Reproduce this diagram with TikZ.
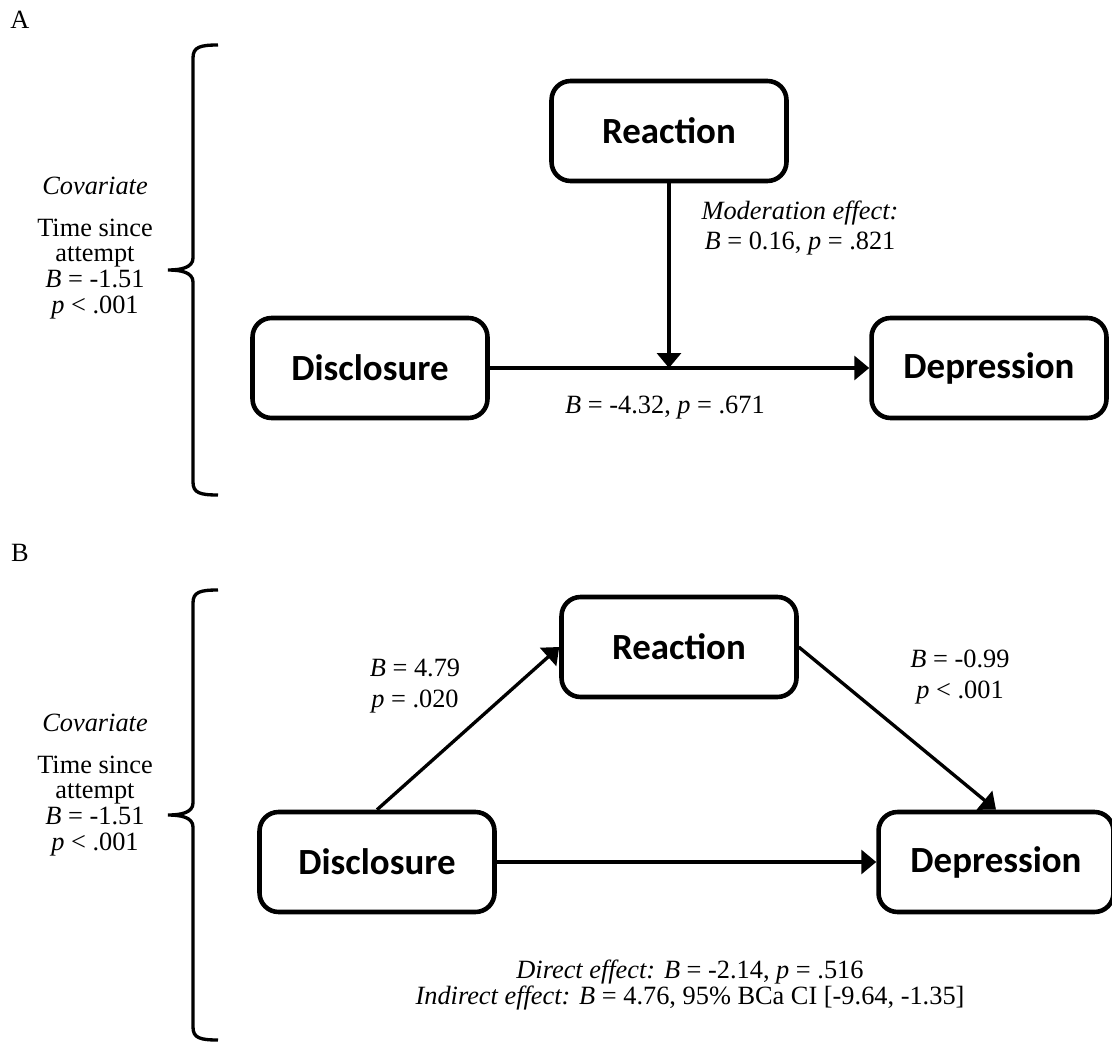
\documentclass[tikz,border=0pt]{standalone}
\usepackage{fontspec}
\setmainfont{Liberation Serif}
\newfontfamily\boxfont{Carlito}
\usetikzlibrary{positioning,arrows.meta}

\begin{document}
\begin{tikzpicture}[x=0.02cm,y=-0.02cm,
          every node/.style={font=\fontsize{15}{14.6}\selectfont},
          box/.style={draw, line width=2.6pt, rounded corners=0.38cm,
            minimum width=4.7cm, minimum height=2cm,
            font=\boxfont\bfseries\fontsize{21}{24}\selectfont},
          ar/.style={-{Triangle[length=0.3cm,width=0.48cm]},line width=1.9pt},
          brc/.style={line width=1.9pt}]
        \useasboundingbox (0,0) rectangle (1112,1044);
        % panel A: moderation
        \node (labA) at (20,20) {A};
        \node[box] (reactA) at (669,131) {Reaction};
        \node[box] (discA) at (370,368) {Disclosure};
        \node[box] (depA) at (989,368) {Depression};
        \node[align=center] (covA) at (95,248)
        {\textit{Covariate}\\[9pt]
          Time since\\ attempt\\ \textit{B} = -1.51\\ \textit{p} < .001};
        \draw[brc] (218,45) .. controls (200,45) and (193,47) .. (193,58)
          -- (193,258) .. controls (193,268) and (180,270) .. (168,270)
          .. controls (180,270) and (193,272) .. (193,282)
          -- (193,482) .. controls (193,493) and (200,495) .. (218,495);
        \draw[ar] (discA) -- (depA);
        \draw[ar] (reactA) -- (reactA.south |- discA.east);
        \node[align=center] (modA) at (800,228)
        {\textit{Moderation effect:}\\[3pt] \textit{B} = 0.16, \textit{p} = .821};
        \node (pathA) at (665,408) {\textit{B} = -4.32, \textit{p} = .671};
        % panel B: mediation
        \node (labB) at (20,553) {B};
        \node[box] (reactB) at (679,647) {Reaction};
        \node[box] (discB) at (377,862) {Disclosure};
        \node[box] (depB) at (996,862) {Depression};
        \node[align=center] (covB) at (95,785)
        {\textit{Covariate}\\[9pt]
          Time since\\ attempt\\ \textit{B} = -1.51\\ \textit{p} < .001};
        \draw[brc,shift={(0,545)}] (218,45) .. controls (200,45) and (193,47) .. (193,58)
          -- (193,258) .. controls (193,268) and (180,270) .. (168,270)
          .. controls (180,270) and (193,272) .. (193,282)
          -- (193,482) .. controls (193,493) and (200,495) .. (218,495);
        \draw[ar] (discB.north) -- (reactB.west);
        \draw[ar] (reactB.east) -- (depB.north);
        \draw[ar] (discB) -- (depB);
        \node[align=center] (labAB) at (415,686) {\textit{B} = 4.79\\[3pt] \textit{p} = .020};
        \node[align=center] (labBC) at (960,677) {\textit{B} = -0.99\\[3pt] \textit{p} < .001};
        \node[align=center] (effB) at (690,985)
        {\textit{Direct effect: B} = -2.14, \textit{p} = .516\\
          \textit{Indirect effect: B} = 4.76, 95\% BCa CI [-9.64, -1.35]};
      \end{tikzpicture}
\end{document}
